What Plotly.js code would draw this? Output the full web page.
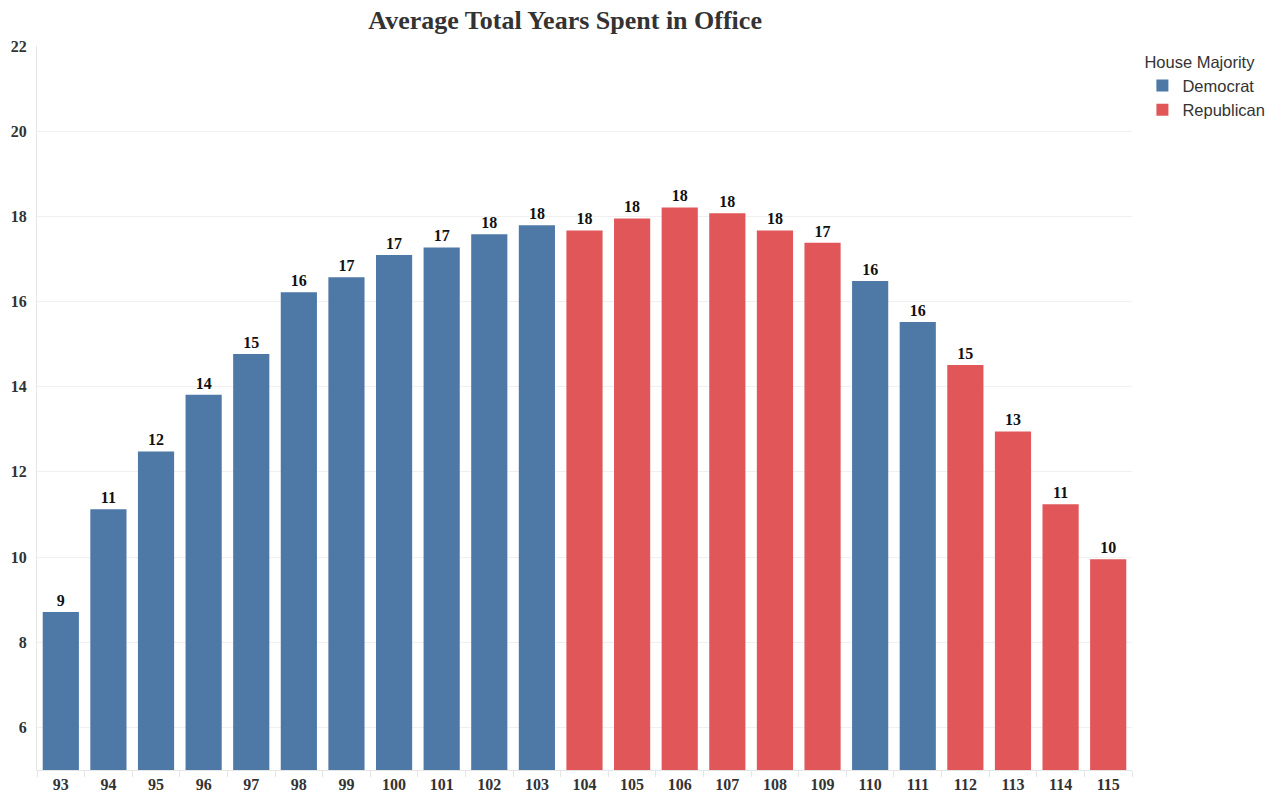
<!DOCTYPE html>
<html><head><meta charset="utf-8">
<script src="https://cdn.plot.ly/plotly-3.0.1.min.js"></script>
<style>body{margin:0;background:#fff}#chart{width:1270px;height:795px}</style>
</head><body><div id="chart"></div>
<script>
const congress = ['93','94','95','96','97','98','99','100','101','102','103','104','105','106','107','108','109','110','111','112','113','114','115'];
const avgYears = [8.71,11.12,12.48,13.81,14.77,16.22,16.57,17.09,17.27,17.58,17.79,17.67,17.95,18.21,18.07,17.67,17.38,16.48,15.52,14.51,12.95,11.24,9.95];
const majority = ['D','D','D','D','D','D','D','D','D','D','D','R','R','R','R','R','R','D','D','R','R','R','R'];
const yTicks = [6,8,10,12,14,16,18,20,22];

const parties = [{key:'D', name:'Democrat', color:'#4e79a7'},{key:'R', name:'Republican', color:'#e15759'}];
const traces = parties.map(p => {
  const xs = [], ys = [];
  congress.forEach((c,i) => { if (majority[i] === p.key) { xs.push(c); ys.push(avgYears[i]); } });
  return {
    type:'bar', name:p.name, x:xs, y:ys,
    marker:{color:p.color},
    texttemplate:'%{y:.0f}', textposition:'outside', cliponaxis:false,
    textfont:{family:'Liberation Serif', size:16, color:'#111', weight:'bold'},
    hoverinfo:'x+y'
  };
});

const layout = {
  width:1270, height:795,
  margin:{l:37, r:138, t:46, b:25, autoexpand:false},
  paper_bgcolor:'#fff', plot_bgcolor:'#fff',
  barmode:'overlay', bargap:0.24,
  title:{text:'<b>Average Total Years Spent in Office</b>', x:0.445, xref:'container', xanchor:'center', y:0.975, yref:'container', yanchor:'middle',
    font:{family:'Liberation Serif', size:26, color:'#333'}},
  xaxis:{type:'category', categoryorder:'array', categoryarray:congress,
    tickfont:{family:'Liberation Serif', size:16, color:'#333', weight:'bold'},
    showline:true, linecolor:'#e6e6e6', linewidth:1, ticks:'outside', tickson:'boundaries', ticklen:6, tickcolor:'#e6e6e6',
    showgrid:false, zeroline:false},
  yaxis:{range:[5,22], tickvals:yTicks, ticktext:yTicks.map(String),
    tickfont:{family:'Liberation Serif', size:16, color:'#333', weight:'bold'},
    showgrid:true, gridcolor:'#f0f0f0', gridwidth:1, zeroline:false,
    showline:true, linecolor:'#e6e6e6', linewidth:1, ticks:'', ticklabelstandoff:6},
  legend:{x:1.0095, xanchor:'left', y:0.999, yanchor:'top',
    title:{text:'House Majority', font:{family:'Liberation Sans', size:16.5, color:'#333'}},
    font:{family:'Liberation Sans', size:16.5, color:'#333'}, tracegroupgap:0, itemwidth:30},
  showlegend:true
};
Plotly.newPlot('chart', traces, layout, {displayModeBar:false});
</script></body></html>
